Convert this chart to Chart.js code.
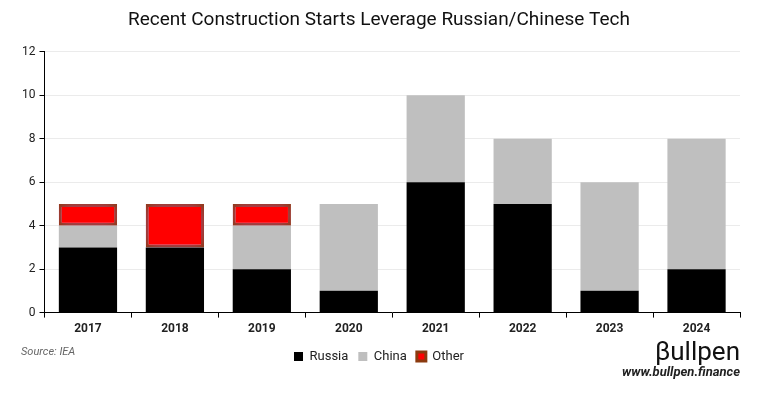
<!DOCTYPE html>
<html>
<head>
<meta charset="utf-8">
<script src="https://cdn.jsdelivr.net/npm/chart.js@4"></script>
<style>
  html,body{margin:0;padding:0;background:#fff;}
  .wrap{position:relative;width:764px;height:397px;}
  .src{position:absolute;left:21px;top:345px;font:italic 11px 'Roboto',sans-serif;color:#666;}
  .logo{position:absolute;right:24px;top:336px;font:26px 'Roboto',sans-serif;color:#111;}
  .url{position:absolute;right:24px;top:364px;font:italic bold 13px 'Roboto',sans-serif;color:#222;}
</style>
</head>
<body>
<div class="wrap">
  <canvas id="c" width="764" height="397"></canvas>
  <div class="src">Source: IEA</div>
  <div class="logo">βullpen</div>
  <div class="url">www.bullpen.finance</div>
</div>
<script>
const years = ['2017','2018','2019','2020','2021','2022','2023','2024'];
const russia = [3,3,2,1,6,5,1,2];
const china  = [1,0,2,4,4,3,5,6];
const other  = [1,2,1,0,0,0,0,0];

const font = "'Roboto', sans-serif";
Chart.defaults.font.family = font;
Chart.defaults.color = '#222';

// pink glow behind the "Other" blocks
const glow = {
  id:'glow',
  beforeDatasetDraw(chart, args){
    if(args.index === 2){
      chart.ctx.save();
      chart.ctx.shadowColor = 'rgba(255,80,255,0.5)';
      chart.ctx.shadowBlur = 12;
    }
  },
  afterDatasetDraw(chart, args){
    if(args.index === 2) chart.ctx.restore();
  }
};

new Chart(document.getElementById('c').getContext('2d'), {
  type:'bar',
  data:{
    labels:years,
    datasets:[
      {label:'Russia', data:russia, backgroundColor:'#000', borderWidth:0},
      {label:'China', data:china, backgroundColor:'#bfbfbf', borderWidth:0},
      {label:'Other', data:other, backgroundColor:'#ff0000', borderColor:'#8b3a0f', borderWidth:3, borderSkipped:false}
    ]
  },
  options:{
    responsive:false, animation:false,
    layout:{padding:{left:18, right:24, top:0, bottom:24}},
    datasets:{bar:{categoryPercentage:0.67, barPercentage:1}},
    plugins:{
      title:{display:true, text:'Recent Construction Starts Leverage Russian/Chinese Tech',
        font:{size:19, weight:'normal', family:font}, color:'#111', padding:{top:9, bottom:20}},
      legend:{position:'bottom', labels:{boxWidth:9, boxHeight:9, padding:10, font:{size:13}, color:'#222'}},
      tooltip:{enabled:false}
    },
    scales:{
      x:{stacked:true,
        grid:{display:true, drawOnChartArea:false, offset:true, tickLength:5, color:'#000'},
        border:{color:'#000', width:1},
        ticks:{font:{size:12, weight:'bold'}, color:'#222', padding:4}},
      y:{stacked:true, min:0, max:12,
        grid:{color:'rgba(0,0,0,0.08)', tickColor:'#000', tickLength:5},
        border:{color:'#000', width:1},
        ticks:{stepSize:2, font:{size:12}, color:'#222', padding:4}}
    }
  },
  plugins:[glow]
});
</script>
</body>
</html>
